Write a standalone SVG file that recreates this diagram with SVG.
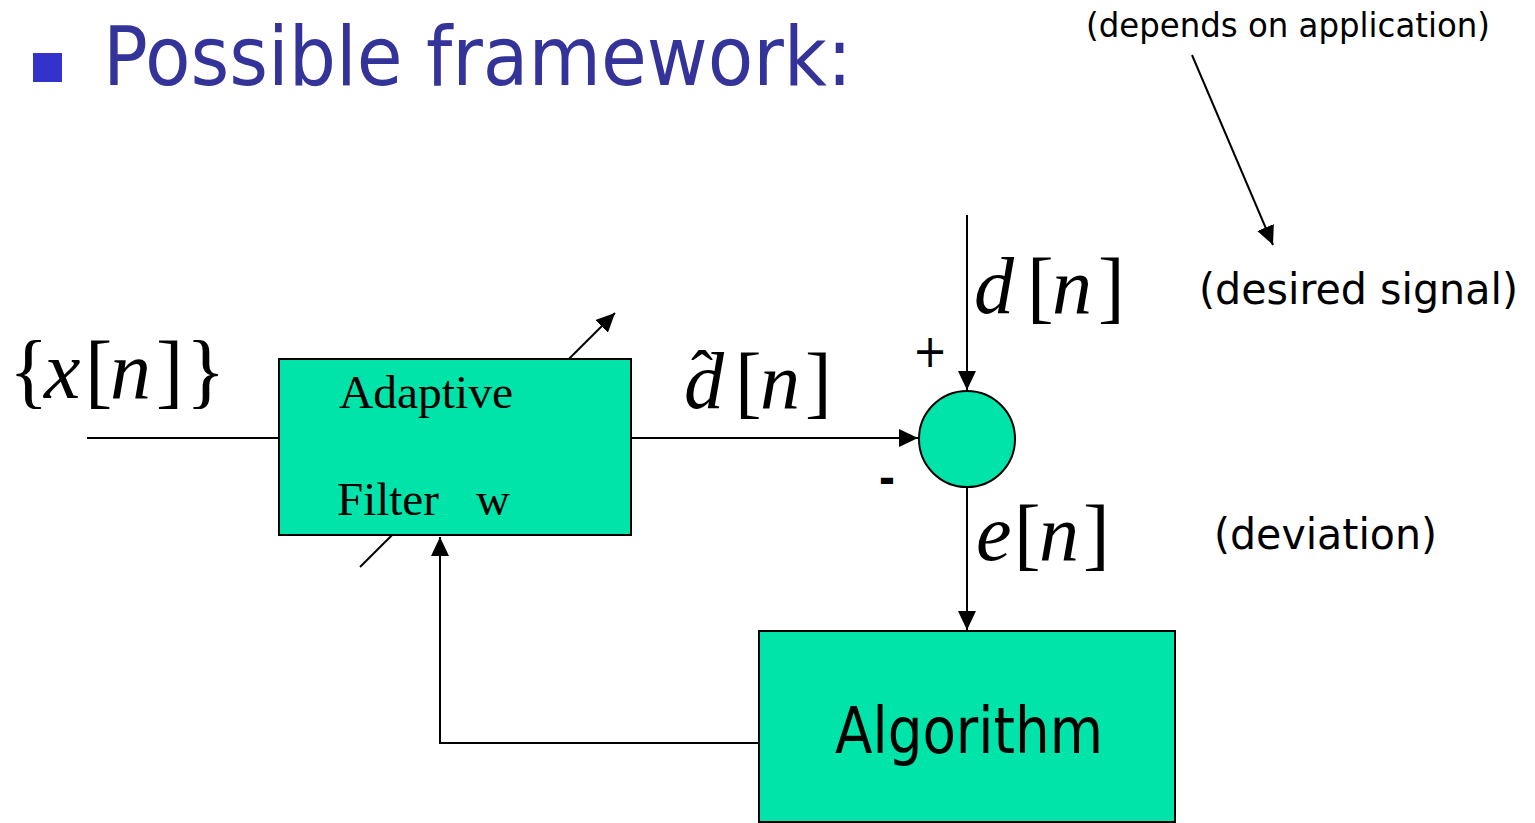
<svg xmlns="http://www.w3.org/2000/svg" width="1535" height="823" viewBox="0 0 1535 823">
<defs>
<marker id="ah" markerUnits="userSpaceOnUse" markerWidth="20" markerHeight="18" refX="19" refY="9" orient="auto">
<path d="M0,0 L19,9 L0,18 Z" fill="#000"/>
</marker>
<style>
.blk{fill:#00E4AA;stroke:#000;stroke-width:2}
.ln{stroke:#000;stroke-width:2;fill:none}
.sans{font-family:"DejaVu Sans Condensed","DejaVu Sans","Liberation Sans",sans-serif;fill:#000}
.serif{font-family:"Liberation Serif","Times New Roman",serif;fill:#000}
.it{font-style:italic}
</style>
</defs>
<rect width="1535" height="823" fill="#fff"/>
<g id="title">
<rect x="33" y="53" width="29" height="29" fill="#3333CC"/>
<text class="sans" x="103" y="85" font-size="82" textLength="749" lengthAdjust="spacingAndGlyphs" style="fill:#333399">Possible framework:</text>
</g>
<g id="connectors">
<line class="ln" x1="360" y1="567" x2="615" y2="313" marker-end="url(#ah)"/>
<line class="ln" x1="87" y1="438" x2="279" y2="438"/>
<line class="ln" x1="631" y1="438" x2="918" y2="438" marker-end="url(#ah)"/>
<line class="ln" x1="967" y1="215" x2="967" y2="390" marker-end="url(#ah)"/>
<line class="ln" x1="967" y1="487" x2="967" y2="630" marker-end="url(#ah)"/>
<polyline class="ln" points="759,743 440,743 440,537" marker-end="url(#ah)"/>
<line class="ln" x1="1192" y1="55" x2="1273" y2="245" marker-end="url(#ah)"/>
</g>
<g id="adaptive-filter">
<rect class="blk" x="279" y="359" width="352" height="176"/>
<text class="serif" x="339" y="408" font-size="47" textLength="174" lengthAdjust="spacingAndGlyphs">Adaptive</text>
<text class="serif" y="515" font-size="47"><tspan x="337">Filter</tspan><tspan x="476">w</tspan></text>
</g>
<g id="summer">
<circle class="blk" cx="967" cy="439" r="48"/>
</g>
<g id="algorithm">
<rect class="blk" x="759" y="631" width="416" height="191"/>
<text class="sans" x="835" y="753" font-size="64" textLength="268" lengthAdjust="spacingAndGlyphs">Algorithm</text>
</g>
<g id="labels">
<text class="sans" x="1086" y="37" font-size="34" textLength="404" lengthAdjust="spacingAndGlyphs">(depends on application)</text>
<text class="sans" x="1199" y="304" font-size="42" textLength="319" lengthAdjust="spacingAndGlyphs">(desired signal)</text>
<text class="sans" x="1214" y="549" font-size="42" textLength="223" lengthAdjust="spacingAndGlyphs">(deviation)</text>
<text class="sans" x="930" y="367" font-size="46" text-anchor="middle">+</text>
<text class="sans" x="887" y="494" font-size="44" text-anchor="middle" font-weight="bold">-</text>
<text class="serif" y="398" font-size="82"><tspan x="9">{</tspan><tspan x="44" class="it">x</tspan><tspan x="85">[</tspan><tspan x="110" class="it">n</tspan><tspan x="156">]</tspan><tspan x="186">}</tspan></text>
<text class="serif" y="313" font-size="80"><tspan x="974" class="it">d</tspan><tspan x="1027">[</tspan><tspan x="1052" class="it">n</tspan><tspan x="1098">]</tspan></text>
<text class="serif" y="408" font-size="80"><tspan x="684" class="it">d</tspan><tspan x="735">[</tspan><tspan x="760" class="it">n</tspan><tspan x="805">]</tspan><tspan x="691" y="396" font-size="66">ˆ</tspan></text>
<text class="serif" y="560" font-size="80"><tspan x="976" class="it">e</tspan><tspan x="1014">[</tspan><tspan x="1039" class="it">n</tspan><tspan x="1083">]</tspan></text>
</g>
</svg>
